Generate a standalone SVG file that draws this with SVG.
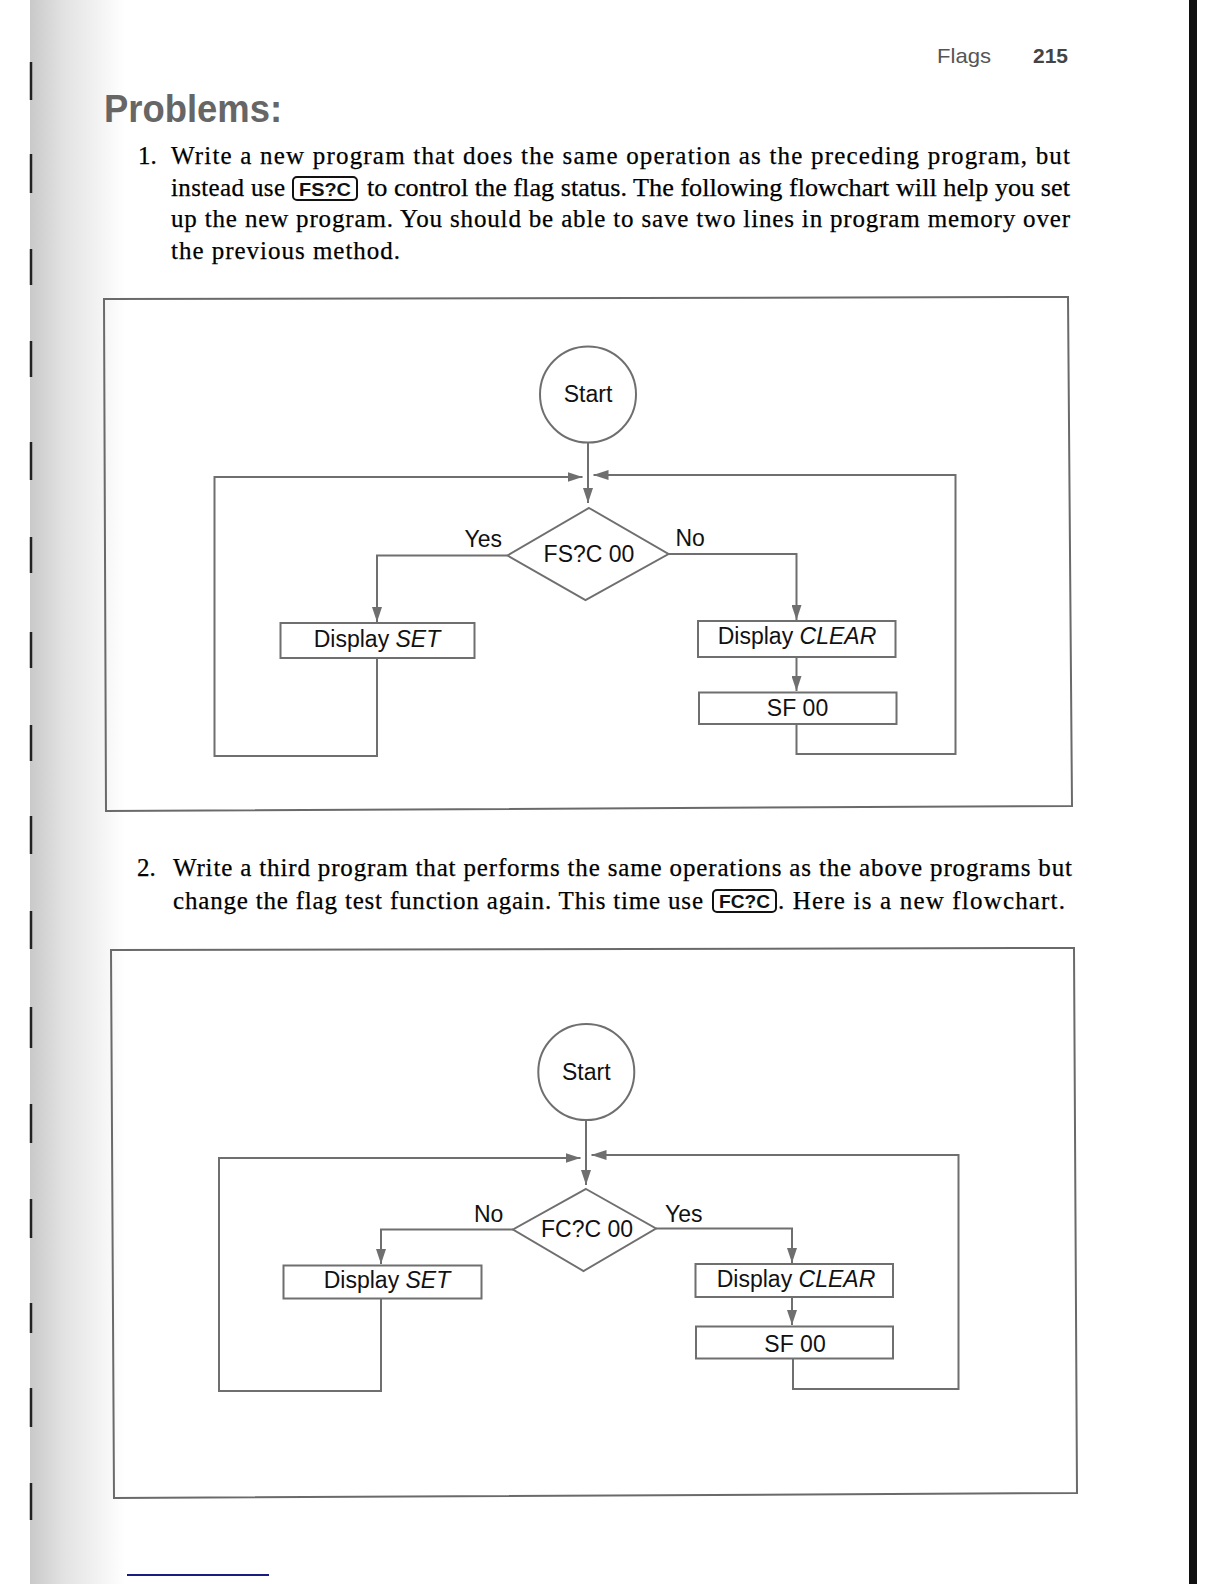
<svg xmlns="http://www.w3.org/2000/svg" width="1224" height="1584" viewBox="0 0 1224 1584">
<defs>
  <linearGradient id="edge" x1="0" y1="0" x2="1" y2="0">
    <stop offset="0" stop-color="#c9c9c9"/>
    <stop offset="0.35" stop-color="#e2e2e2"/>
    <stop offset="1" stop-color="#ffffff"/>
  </linearGradient>
  <marker id="arr" markerUnits="userSpaceOnUse" markerWidth="15" markerHeight="10" refX="15" refY="5" orient="auto">
    <path d="M0,0 L15,5 L0,10 z" fill="#6f6f6f"/>
  </marker>
  <style>
    .serif{font-family:"Liberation Serif","Times New Roman",serif;font-size:25px;fill:#000;stroke:#000;stroke-width:0.25}
    .fc{font-family:"Liberation Sans",Arial,sans-serif;font-size:23px;fill:#111}
    .shape{fill:#fff;stroke:#6f6f6f;stroke-width:2}
    .frame{fill:none;stroke:#6a6a6a;stroke-width:2}
    .conn path{fill:none;stroke:#6f6f6f;stroke-width:2;marker-end:url(#arr)}
    .key{fill:#fff;stroke:#111;stroke-width:2}
    .keyt{font-family:"Liberation Sans",Arial,sans-serif;font-weight:bold;font-size:19px;fill:#111;text-anchor:middle}
    .tick{stroke:#222;stroke-width:2.5}
  </style>
</defs>
<rect x="0" y="0" width="1224" height="1584" fill="#fff"/>
<!-- scanned page edges -->
<rect x="30" y="0" width="95" height="1584" fill="url(#edge)"/>
<g id="ticks">
  <line class="tick" x1="31" y1="62" x2="31" y2="100"/>
  <line class="tick" x1="31" y1="154" x2="31" y2="193"/>
  <line class="tick" x1="31" y1="249" x2="31" y2="285"/>
  <line class="tick" x1="31" y1="341" x2="31" y2="377"/>
  <line class="tick" x1="31" y1="442" x2="31" y2="480"/>
  <line class="tick" x1="31" y1="537" x2="31" y2="573"/>
  <line class="tick" x1="31" y1="632" x2="31" y2="668"/>
  <line class="tick" x1="31" y1="725" x2="31" y2="761"/>
  <line class="tick" x1="31" y1="816" x2="31" y2="854"/>
  <line class="tick" x1="31" y1="911" x2="31" y2="949"/>
  <line class="tick" x1="31" y1="1007" x2="31" y2="1048"/>
  <line class="tick" x1="31" y1="1104" x2="31" y2="1143"/>
  <line class="tick" x1="31" y1="1199" x2="31" y2="1238"/>
  <line class="tick" x1="31" y1="1303" x2="31" y2="1333"/>
  <line class="tick" x1="31" y1="1388" x2="31" y2="1427"/>
  <line class="tick" x1="31" y1="1483" x2="31" y2="1520"/>
</g>
<rect x="1189" y="0" width="8" height="1584" fill="#111"/>
<line x1="127" y1="1575" x2="269" y2="1575" stroke="#1c1c80" stroke-width="2"/>

<!-- header -->
<text x="937" y="63" font-family="'Liberation Sans',Arial,sans-serif" font-size="21" fill="#555" textLength="54" lengthAdjust="spacingAndGlyphs">Flags</text>
<text x="1033" y="63" font-family="'Liberation Sans',Arial,sans-serif" font-size="21" font-weight="bold" fill="#444" textLength="35" lengthAdjust="spacingAndGlyphs">215</text>
<text x="104" y="122" font-family="'Liberation Sans',Arial,sans-serif" font-size="38" font-weight="bold" fill="#666" textLength="178" lengthAdjust="spacingAndGlyphs">Problems:</text>

<!-- paragraph 1 -->
<text class="serif" x="138" y="164">1.</text>
<text class="serif" x="171" y="164" textLength="899" lengthAdjust="spacing">Write a new program that does the same operation as the preceding program, but</text>
<text class="serif" x="171" y="196" textLength="114" lengthAdjust="spacing">instead use</text>
<rect class="key" x="293" y="177" width="64" height="23" rx="4"/>
<text class="keyt" x="325" y="195.5" textLength="52" lengthAdjust="spacingAndGlyphs">FS?C</text>
<text class="serif" x="367" y="196" textLength="703" lengthAdjust="spacingAndGlyphs">to control the flag status. The following flowchart will help you set</text>
<text class="serif" x="171" y="227" textLength="899" lengthAdjust="spacing">up the new program. You should be able to save two lines in program memory over</text>
<text class="serif" x="171" y="259" textLength="229" lengthAdjust="spacing">the previous method.</text>

<!-- flowchart 1 -->
<polygon class="frame" points="104,299 1068,297 1072,806 106,811"/>
<g id="fc1-connectors" class="conn">
  <path d="M588,443 L588,503"/>
  <path d="M377,658 L377,756 L214.5,756 L214.5,477 L582.5,477"/>
  <path d="M507.5,555.5 L377,555.5 L377,622"/>
  <path d="M668.5,554 L796.5,554 L796.5,620"/>
  <path d="M796.5,657 L796.5,691"/>
  <path d="M796.5,724 L796.5,754 L955.5,754 L955.5,475 L593.5,475"/>
</g>
<g id="fc1-start">
  <circle class="shape" cx="588" cy="394.5" r="48"/>
  <text class="fc" x="588" y="402" text-anchor="middle">Start</text>
</g>
<g id="fc1-decision">
  <polygon class="shape" points="589,508 668.5,554 585.5,600 507.5,555.5"/>
  <text class="fc" x="589" y="562" text-anchor="middle">FS?C 00</text>
  <text class="fc" x="464.5" y="547">Yes</text>
  <text class="fc" x="675.5" y="546">No</text>
</g>
<g id="fc1-set">
  <rect class="shape" x="280.5" y="623" width="194" height="35"/>
  <text class="fc" x="377" y="647" text-anchor="middle">Display <tspan font-style="italic">SET</tspan></text>
</g>
<g id="fc1-clear">
  <rect class="shape" x="698" y="621" width="197.5" height="36"/>
  <text class="fc" x="797" y="644" text-anchor="middle">Display <tspan font-style="italic">CLEAR</tspan></text>
</g>
<g id="fc1-sf">
  <rect class="shape" x="699" y="692.5" width="197.5" height="31.5"/>
  <text class="fc" x="797.5" y="716" text-anchor="middle">SF 00</text>
</g>

<!-- paragraph 2 -->
<text class="serif" x="137" y="876">2.</text>
<text class="serif" x="173" y="876" textLength="899" lengthAdjust="spacing">Write a third program that performs the same operations as the above programs but</text>
<text class="serif" x="173" y="909" textLength="530" lengthAdjust="spacing">change the flag test function again. This time use</text>
<rect class="key" x="713" y="890" width="63" height="22" rx="4"/>
<text class="keyt" x="744.5" y="907.5" textLength="51" lengthAdjust="spacingAndGlyphs">FC?C</text>
<text class="serif" x="778" y="909" textLength="287" lengthAdjust="spacing">. Here is a new flowchart.</text>

<!-- flowchart 2 -->
<polygon class="frame" points="111,950 1074,948 1077,1493 114,1498"/>
<g id="fc2-connectors" class="conn">
  <path d="M586,1120 L586,1185"/>
  <path d="M381,1298 L381,1391 L219,1391 L219,1158 L580.5,1158"/>
  <path d="M513,1229.5 L381,1229.5 L381,1264"/>
  <path d="M656,1228.5 L792,1228.5 L792,1263"/>
  <path d="M792,1297 L792,1325"/>
  <path d="M793,1358 L793,1389 L958.5,1389 L958.5,1155 L591.5,1155"/>
</g>
<g id="fc2-start">
  <circle class="shape" cx="586.3" cy="1072" r="48"/>
  <text class="fc" x="586.3" y="1080" text-anchor="middle">Start</text>
</g>
<g id="fc2-decision">
  <polygon class="shape" points="586,1189 656,1228.5 583.5,1271 513,1229.5"/>
  <text class="fc" x="587" y="1237" text-anchor="middle">FC?C 00</text>
  <text class="fc" x="474" y="1222">No</text>
  <text class="fc" x="665" y="1222">Yes</text>
</g>
<g id="fc2-set">
  <rect class="shape" x="283.5" y="1265.5" width="198" height="33"/>
  <text class="fc" x="387" y="1288" text-anchor="middle">Display <tspan font-style="italic">SET</tspan></text>
</g>
<g id="fc2-clear">
  <rect class="shape" x="695.5" y="1264" width="197.5" height="33"/>
  <text class="fc" x="796" y="1287" text-anchor="middle">Display <tspan font-style="italic">CLEAR</tspan></text>
</g>
<g id="fc2-sf">
  <rect class="shape" x="696" y="1326.5" width="197" height="32"/>
  <text class="fc" x="795" y="1352" text-anchor="middle">SF 00</text>
</g>
</svg>
